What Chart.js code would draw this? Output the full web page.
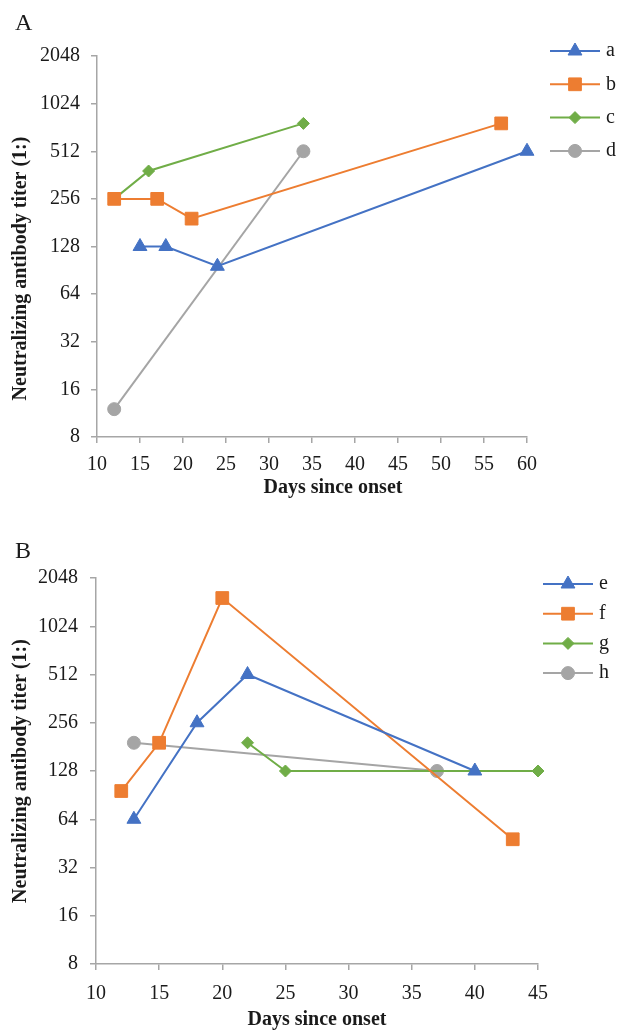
<!DOCTYPE html>
<html>
<head>
<meta charset="utf-8">
<script src="https://cdn.jsdelivr.net/npm/chart.js@4/dist/chart.umd.min.js"></script>
<style>
html,body{margin:0;padding:0;background:#fff;}
#wrap{position:relative;width:618px;height:1031px;overflow:hidden;}
.panel{position:absolute;left:0;width:618px;}
.lbl{position:absolute;font-family:"Liberation Serif","Times New Roman",serif;font-size:24px;color:#1a1a1a;line-height:1;}
</style>
</head>
<body>
<div id="wrap">
  <div class="panel" style="top:0;height:515px"><canvas id="cA" width="618" height="515"></canvas></div>
  <div class="panel" style="top:515px;height:516px"><canvas id="cB" width="618" height="516"></canvas></div>
  <div class="lbl" style="left:15px;top:10px">A</div>
  <div class="lbl" style="left:15px;top:538px">B</div>
</div>
<script>
// ---------- data ----------
const yTickValues = [8, 16, 32, 64, 128, 256, 512, 1024, 2048];
const xLabel = 'Days since onset';
const yLabel = 'Neutralizing antibody titer (1:)';

// Panel A
const seriesA = ['a', 'b', 'c', 'd'];
const daysA_a = [15, 18, 24, 60];
const titerA_a = [128, 128, 96, 512];
const daysA_b = [12, 17, 21, 57];
const titerA_b = [256, 256, 192, 768];
const daysA_c = [12, 16, 34];
const titerA_c = [256, 384, 768];
const daysA_d = [12, 34];
const titerA_d = [12, 512];

// Panel B
const seriesB = ['e', 'f', 'g', 'h'];
const daysB_e = [13, 18, 22, 40];
const titerB_e = [64, 256, 512, 128];
const daysB_f = [12, 15, 20, 43];
const titerB_f = [96, 192, 1536, 48];
const daysB_g = [22, 25, 45];
const titerB_g = [192, 128, 128];
const daysB_h = [13, 37];
const titerB_h = [192, 128];

// ---------- styles ----------
const FONT = '"Liberation Serif","Times New Roman",serif';
const TEXT = '#1a1a1a';
const AXIS = '#a6a6a6';
const colors = ['#4472C4', '#ED7D31', '#70AD47', '#A5A5A5'];
const styles = ['triangle', 'rect', 'rectRot', 'circle'];
const radii = [8, 9, 6, 6.5];

Chart.defaults.font.family = FONT;
Chart.defaults.color = TEXT;

function pts(days, titers) { return days.map((d, i) => ({ x: d, y: titers[i] })); }

function makeDatasets(names, dayArr, titerArr) {
  return names.map((n, i) => ({
    label: n,
    data: pts(dayArr[i], titerArr[i]),
    borderColor: colors[i],
    backgroundColor: colors[i],
    pointBackgroundColor: colors[i],
    pointBorderColor: colors[i],
    pointStyle: styles[i],
    pointRadius: radii[i],
    pointHoverRadius: radii[i],
    pointBorderWidth: 1,
    borderWidth: 2,
    fill: false,
    tension: 0,
    clip: false
  }));
}

const legendPlugin = {
  id: 'customLegend',
  afterDraw(chart, args, opts) {
    const ctx = chart.ctx;
    chart.data.datasets.forEach((ds, i) => {
      const y = opts.y0 + i * opts.dy;
      ctx.save();
      ctx.strokeStyle = ds.borderColor;
      ctx.lineWidth = 2;
      ctx.beginPath();
      ctx.moveTo(opts.x1, y);
      ctx.lineTo(opts.x2, y);
      ctx.stroke();
      ctx.fillStyle = ds.backgroundColor;
      ctx.strokeStyle = ds.borderColor;
      ctx.lineWidth = 1;
      Chart.helpers.drawPoint(ctx, { pointStyle: ds.pointStyle, radius: ds.pointRadius, borderWidth: 1, rotation: 0 }, (opts.x1 + opts.x2) / 2, y);
      ctx.fillStyle = TEXT;
      ctx.font = '20px ' + FONT;
      ctx.textBaseline = 'middle';
      ctx.textAlign = 'left';
      ctx.fillText(ds.label, opts.tx, y);
      ctx.restore();
    });
  }
};

// axis titles placed like the reference (panel A titles are nudged off-centre there)
const titlePlugin = {
  id: 'axisTitles',
  afterDraw(chart, args, opts) {
    const ctx = chart.ctx;
    const a = chart.chartArea;
    ctx.save();
    ctx.fillStyle = TEXT;
    ctx.font = 'bold 20px ' + FONT;
    ctx.textAlign = 'center';
    ctx.textBaseline = 'middle';
    ctx.fillText(xLabel, (a.left + a.right) / 2 + opts.xOffset, opts.xY);
    ctx.translate(opts.yX, (a.top + a.bottom) / 2 + opts.yOffset);
    ctx.rotate(-Math.PI / 2);
    ctx.fillText(yLabel, 0, 0);
    ctx.restore();
  }
};

function makeChart(id, datasets, c) {
  return new Chart(document.getElementById(id), {
    type: 'line',
    data: { datasets },
    options: {
      responsive: false,
      animation: false,
      events: [],
      layout: { padding: { left: c.padL, top: c.padT, right: c.padR, bottom: c.padB } },
      plugins: {
        legend: { display: false },
        tooltip: { enabled: false },
        customLegend: c.legend,
        axisTitles: c.titles
      },
      scales: {
        x: {
          type: 'linear',
          min: c.xMin, max: c.xMax,
          afterFit: s => { s.height = c.xH; },
          ticks: { stepSize: 5, autoSkip: false, maxRotation: 0, padding: c.xTickPad, color: TEXT, font: { size: 20, family: FONT } },
          grid: { drawOnChartArea: false, drawTicks: true, tickLength: 6, color: AXIS, lineWidth: 1.5 },
          border: { color: AXIS, width: 1.5 },
          title: { display: false }
        },
        y: {
          type: 'logarithmic',
          min: 8, max: 2048,
          afterFit: s => { s.width = c.yW; },
          afterBuildTicks: s => { s.ticks = yTickValues.map(v => ({ value: v })); },
          ticks: { autoSkip: false, padding: c.yTickPad, color: TEXT, font: { size: 20, family: FONT }, callback: v => String(v) },
          grid: { drawOnChartArea: false, drawTicks: true, tickLength: 6, color: AXIS, lineWidth: 1.5 },
          border: { color: AXIS, width: 1.5 },
          title: { display: false }
        }
      }
    },
    plugins: [legendPlugin, titlePlugin]
  });
}

makeChart('cA',
  makeDatasets(seriesA, [daysA_a, daysA_b, daysA_c, daysA_d], [titerA_a, titerA_b, titerA_c, titerA_d]),
  { padL: 0, yW: 97, padT: 56, padR: 91, padB: 15, xH: 63, xMin: 10, xMax: 60, xTickPad: 10, yTickPad: 11,
    legend: { x1: 550, x2: 600, tx: 606, y0: 51, dy: 33.3 },
    titles: { xOffset: 21, xY: 488, yX: 21, yOffset: 22 } });

makeChart('cB',
  makeDatasets(seriesB, [daysB_e, daysB_f, daysB_g, daysB_h], [titerB_e, titerB_f, titerB_g, titerB_h]),
  { padL: 0, yW: 96, padT: 63, padR: 80, padB: 0, xH: 67, xMin: 10, xMax: 45, xTickPad: 12, yTickPad: 12,
    legend: { x1: 543, x2: 593, tx: 599, y0: 69, dy: 29.7 },
    titles: { xOffset: 0, xY: 505, yX: 21, yOffset: 0 } });
</script>
</body>
</html>
